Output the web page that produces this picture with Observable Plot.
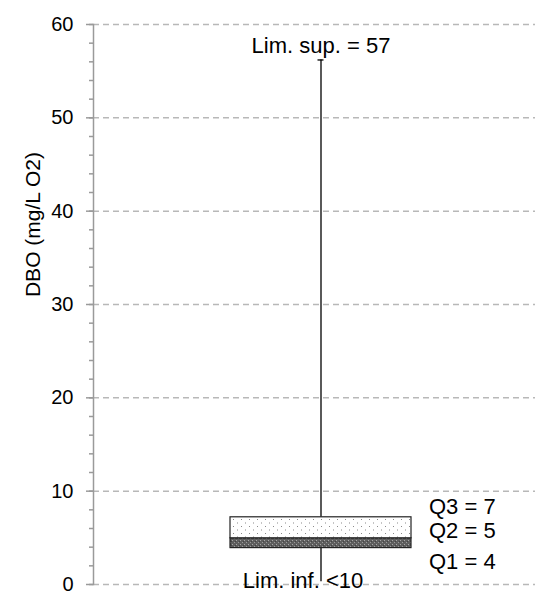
<!DOCTYPE html>
<html><head><meta charset="utf-8">
<script src="https://cdn.jsdelivr.net/npm/d3@7"></script>
<script src="https://cdn.jsdelivr.net/npm/@observablehq/plot@0.6"></script>
<style>html,body{margin:0;padding:0;background:#fff;}</style>
</head><body><div id="chart"></div>
<script>
// ---- data ----
const category = ["DBO"];
const whiskerMin = [0.3];
const q1 = [3.9];
const q2 = [4.95];
const q3 = [7.2];
const whiskerMax = [56.2];
const labelSup = ["Lim. sup. = 57"];
const labelInf = ["Lim. inf. <10"];
const labelQ3 = ["Q3 = 7"];
const labelQ2 = ["Q2 = 5"];
const labelQ1 = ["Q1 = 4"];
const yTicksMajor = [0, 10, 20, 30, 40, 50, 60];
const yTicksMinor = [0, 2, 4, 6, 8, 10, 12, 14, 16, 18, 20, 22, 24, 26, 28, 30, 32, 34, 36, 38, 40, 42, 44, 46, 48, 50, 52, 54, 56, 58, 60];
const yLabel = ["DBO (mg/L O2)"];

const box = category.map((c, i) => ({
  cat: c, min: whiskerMin[i], q1: q1[i], q2: q2[i], q3: q3[i], max: whiskerMax[i],
  sup: labelSup[i], inf: labelInf[i], lq3: labelQ3[i], lq2: labelQ2[i], lq1: labelQ1[i]
}));

const FONT = "'Liberation Sans', Arial, sans-serif";

const chart = Plot.plot({
  width: 535,
  height: 592,
  marginLeft: 93,
  marginRight: 0,
  marginTop: 24,
  marginBottom: 8,
  style: {fontFamily: FONT, background: "#fff", color: "#000"},
  x: {type: "band", domain: category, range: [230, 411], padding: 0, axis: null},
  y: {domain: [0, 60]},
  marks: [
    Plot.ruleY(yTicksMajor, {stroke: "#b8b8b8", strokeWidth: 1.5, strokeDasharray: "6,4"}),
    Plot.frame({anchor: "left", stroke: "#9a9a9a", strokeWidth: 1.5}),
    Plot.axisY(yTicksMinor, {tickSize: 4, tickFormat: () => "", stroke: "#9a9a9a", strokeWidth: 1.5, label: null}),
    Plot.axisY(yTicksMajor, {tickSize: 7, tickPadding: 13, fontSize: 20, stroke: "#9a9a9a", strokeWidth: 1.5, label: null, fill: "#000"}),
    // whiskers
    Plot.ruleX(box, {x: "cat", y1: "q3", y2: "max", stroke: "#000", strokeWidth: 1.3}),
    Plot.ruleX(box, {x: "cat", y1: "min", y2: "q1", stroke: "#000", strokeWidth: 1.3}),
    Plot.tickY(box, {x: "cat", y: "max", stroke: "#000", strokeWidth: 1.3, insetLeft: 87.5, insetRight: 87.5}),
    // box
    Plot.barY(box, {x: "cat", y1: "q1", y2: "q2", fill: "url(#darkPat)", stroke: "#222", strokeWidth: 1.2}),
    Plot.barY(box, {x: "cat", y1: "q2", y2: "q3", fill: "url(#dotPat)", stroke: "#222", strokeWidth: 1.2}),
    // annotations
    Plot.text(box, {x: "cat", y: "max", text: "sup", dy: -14, fontSize: 22, fill: "#000"}),
    Plot.text(box, {x: "cat", y: "min", text: "inf", dx: -18, dy: -1, fontSize: 22, fill: "#000"}),
    Plot.text(box, {x: "cat", y: "q3", text: "lq3", dx: 108, dy: -10, textAnchor: "start", fontSize: 22, fill: "#000"}),
    Plot.text(box, {x: "cat", y: "q2", text: "lq2", dx: 108, dy: -7, textAnchor: "start", fontSize: 22, fill: "#000"}),
    Plot.text(box, {x: "cat", y: "q1", text: "lq1", dx: 108, dy: 14, textAnchor: "start", fontSize: 22, fill: "#000"}),
    Plot.text(yLabel, {frameAnchor: "top-left", rotate: -90, textAnchor: "middle", dx: -68, dy: 200, fontSize: 21, fill: "#000"})
  ]
});

// patterns for the box fills
const svg = d3.select(chart);
const defs = svg.insert("defs", ":first-child");
const dot = defs.append("pattern").attr("id", "dotPat").attr("patternUnits", "userSpaceOnUse")
  .attr("width", 8).attr("height", 7);
dot.append("rect").attr("width", 8).attr("height", 7).attr("fill", "#fff");
dot.append("rect").attr("x", 1).attr("y", 1).attr("width", 1).attr("height", 1).attr("fill", "#8a8a8a");
dot.append("rect").attr("x", 5).attr("y", 4.5).attr("width", 1).attr("height", 1).attr("fill", "#8a8a8a");
const dark = defs.append("pattern").attr("id", "darkPat").attr("patternUnits", "userSpaceOnUse")
  .attr("width", 4).attr("height", 4);
dark.append("rect").attr("width", 4).attr("height", 4).attr("fill", "#5e5e5e");
dark.append("rect").attr("x", 0).attr("y", 0).attr("width", 1).attr("height", 1).attr("fill", "#a8a8a8");
dark.append("rect").attr("x", 2).attr("y", 2).attr("width", 1).attr("height", 1).attr("fill", "#9a9a9a");
dark.append("rect").attr("x", 3).attr("y", 1).attr("width", 1).attr("height", 1).attr("fill", "#444");

document.getElementById("chart").appendChild(chart);
</script>
</body></html>
